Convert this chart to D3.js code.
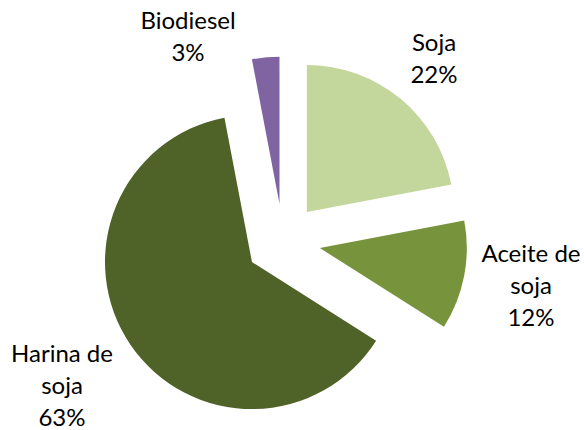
<!DOCTYPE html>
<html>

<head>
    <meta charset="UTF-8">
    <style>
        body { margin: 0; background: #fff; }
        text { font-family: Lato, "Open Sans", sans-serif; fill: #000; }
    </style>
</head>

<body>
    <svg></svg>
    <script src="https://d3js.org/d3.v7.min.js"></script>

    <script>

        let width = 584, height = 430;

        // data
        const categories = ["Soja", "Aceite de soja", "Harina de soja", "Biodiesel"];
        const values = [22, 12, 63, 3];
        const colors = ["#C3D69B", "#77933C", "#4F6228", "#8064A2"];
        // label lines, as Excel wrapped them
        const labelLines = [["Soja", "22%"], ["Aceite de", "soja", "12%"], ["Harina de", "soja", "63%"], ["Biodiesel", "3%"]];
        // label anchor (centre x, first baseline y)
        const labelPos = [[434, 51], [531, 262], [62, 362], [188, 29]];

        let svg = d3.select("svg")
            .attr("width", width)
            .attr("height", height);

        const cx = 283, cy = 241, radius = 147, explode = 37.5;

        const pie = d3.pie().sort(null).value(d => d);
        const arc = d3.arc().innerRadius(0).outerRadius(radius);

        const g = svg.append("g").attr("transform", "translate(" + cx + "," + cy + ")");

        g.selectAll("path")
            .data(pie(values))
            .enter()
            .append("path")
            .attr("d", arc)
            .attr("fill", (d, i) => colors[i])
            .attr("transform", function (d) {
                let a = (d.startAngle + d.endAngle) / 2;
                return "translate(" + (Math.sin(a) * explode) + "," + (-Math.cos(a) * explode) + ")";
            });

        // labels
        let lineH = 32;
        labelLines.forEach((lines, i) => {
            let t = svg.append("text")
                .attr("text-anchor", "middle")
                .style("font-size", "24px");
            lines.forEach((s, j) => {
                t.append("tspan")
                    .attr("x", labelPos[i][0])
                    .attr("y", labelPos[i][1] + j * lineH)
                    .text(s);
            });
        });

    </script>

</body>

</html>
